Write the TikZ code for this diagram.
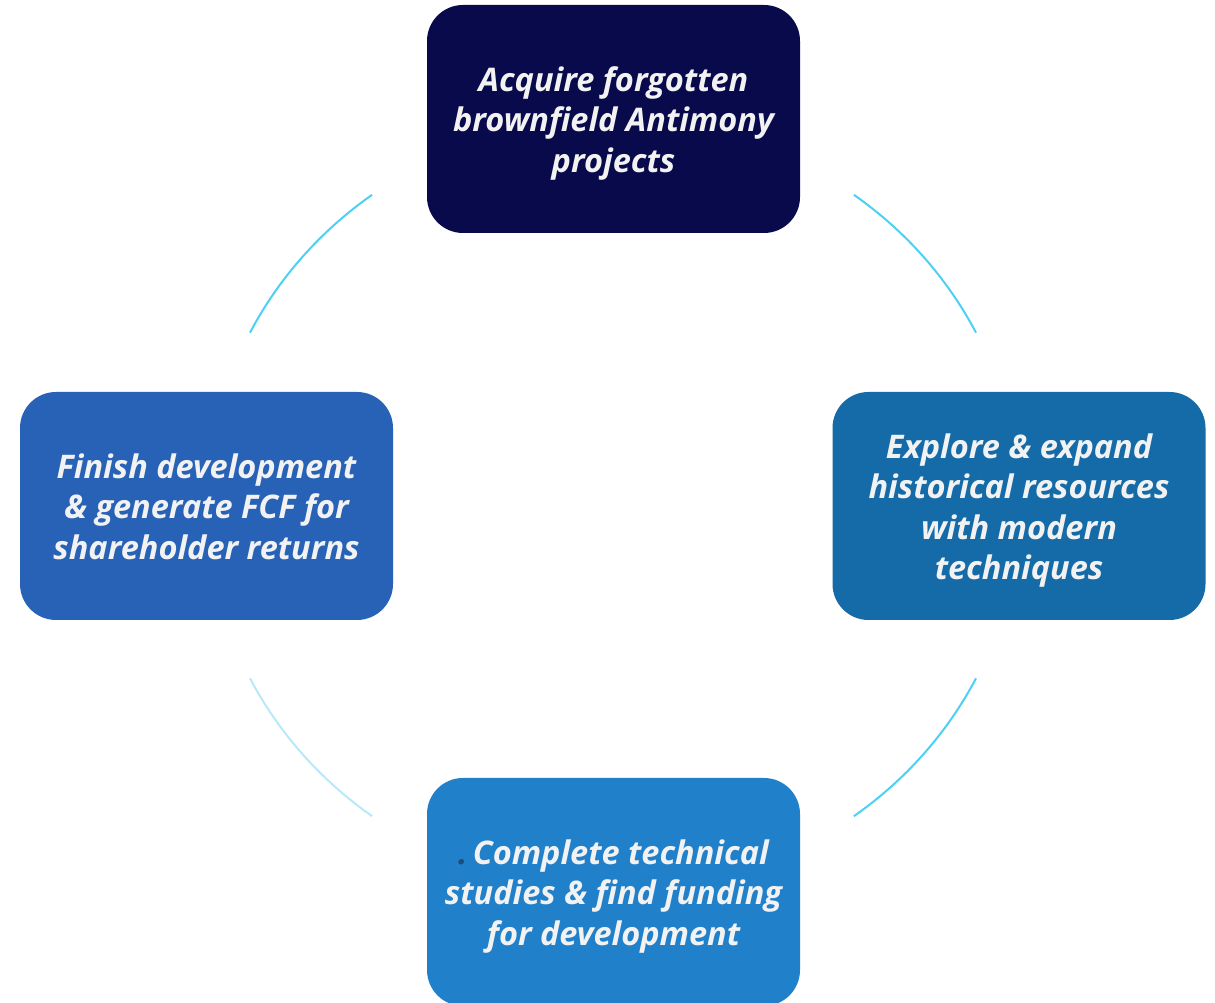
\documentclass[tikz,border=0pt]{standalone}
\usepackage{fontspec}
\setmainfont{Open Sans}
\definecolor{navybox}{HTML}{080A4B}
\definecolor{tealbox}{HTML}{156AA8}
\definecolor{skybox}{HTML}{2180CA}
\definecolor{royalbox}{HTML}{2762B6}
\definecolor{arcblue}{HTML}{4DD0F5}
\definecolor{arcpale}{HTML}{B8E8FA}
\definecolor{labeltext}{HTML}{F2F2F2}
\definecolor{dotblue}{HTML}{1F4E79}
\begin{document}
\begin{tikzpicture}[x=1pt,y=1pt,
  stage/.style={rectangle, rounded corners=36pt, minimum width=373pt,
    minimum height=228pt, inner sep=0pt},
  caption/.style={inner sep=0pt, align=center, text=labeltext,
    font=\fontsize{32.5}{40.5}\selectfont\bfseries\itshape},
  ring/.style={line width=2pt, arcblue}]
\useasboundingbox (0,0) rectangle (1215,1003);
% centre of the cycle
\coordinate (c) at (613,497.5);
% the four stages
\node[stage, fill=navybox] (acquire) at (613.5,884) {};
\node[stage, fill=tealbox] (explore) at (1019,497) {};
\node[stage, fill=skybox] (studies) at (613.5,111) {};
\node[stage, fill=royalbox] (finish) at (206.5,497) {};
% their texts
\node[caption] (acquiretext) at ([yshift=-4pt]acquire.center)
  {Acquire forgotten\\brownfield Antimony\\projects};
\node[caption] (exploretext) at ([yshift=-4.5pt]explore.center)
  {Explore \& expand\\historical resources\\with modern\\techniques};
\node[caption] (studiestext) at ([yshift=-4.5pt]studies.center)
  {{\color{dotblue}.}\,Complete technical\\studies \& find funding\\for development};
\node[caption] (finishtext) at ([yshift=-0.5pt]finish.center)
  {Finish development\\\& generate FCF for\\shareholder returns};
% arcs of the cycle between the stages
\draw[ring] ([shift={(26.6:406 and 386)}]c) arc[start angle=26.6, end angle=53.6, x radius=406, y radius=386];
\draw[ring] ([shift={(126.4:406 and 386)}]c) arc[start angle=126.4, end angle=153.4, x radius=406, y radius=386];
\draw[ring, arcpale] ([shift={(206.6:406 and 386)}]c) arc[start angle=206.6, end angle=233.6, x radius=406, y radius=386];
\draw[ring] ([shift={(-53.6:406 and 386)}]c) arc[start angle=-53.6, end angle=-26.6, x radius=406, y radius=386];
\end{tikzpicture}
\end{document}
